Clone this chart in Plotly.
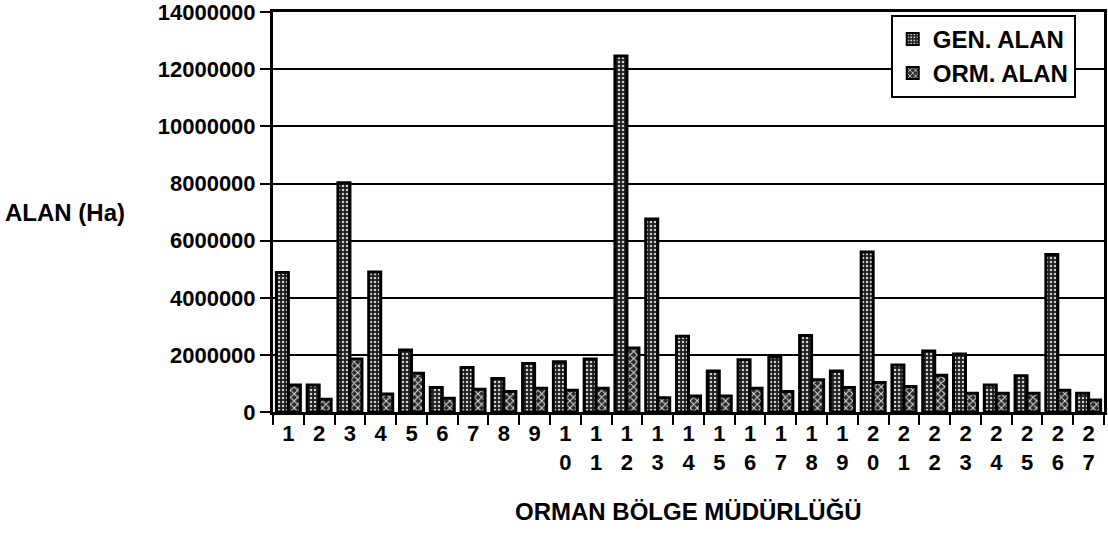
import plotly.graph_objects as go

# Orman Bölge Müdürlüğü numbers and areas (ha)
bolge = [str(i) for i in range(1, 28)]
tick_labels = [b if len(b) == 1 else b[0] + "<br>" + b[1] for b in bolge]

gen_alan = [4890000, 950000, 8030000, 4900000, 2170000, 860000, 1560000, 1170000, 1700000,
            1760000, 1860000, 12470000, 6760000, 2650000, 1440000, 1830000, 1930000, 2680000,
            1440000, 5600000, 1650000, 2140000, 2030000, 950000, 1270000, 5520000, 660000]
orm_alan = [950000, 450000, 1860000, 630000, 1360000, 480000, 800000, 720000, 830000,
            760000, 830000, 2240000, 500000, 560000, 560000, 830000, 720000, 1130000,
            860000, 1030000, 890000, 1290000, 660000, 660000, 660000, 760000, 420000]

y_ticks = [0, 2000000, 4000000, 6000000, 8000000, 10000000, 12000000, 14000000]

FONT = "Liberation Sans, Arial, sans-serif"

fig = go.Figure()
fig.add_trace(go.Bar(
    x=bolge, y=gen_alan, name="GEN. ALAN",
    marker=dict(color="black",
                line=dict(color="black", width=3),
                pattern=dict(shape=".", bgcolor="#1e1e1e", fgcolor="#d0d0d0",
                             size=4, solidity=0.3, fillmode="replace"))
))
fig.add_trace(go.Bar(
    x=bolge, y=orm_alan, name="ORM. ALAN",
    marker=dict(color="black",
                line=dict(color="black", width=3),
                pattern=dict(shape="x", bgcolor="#2a2a2a", fgcolor="#e0e0e0",
                             size=5, solidity=0.35, fillmode="replace"))
))

fig.update_layout(
    width=1108, height=537,
    margin=dict(l=273, r=4, t=12, b=125, autoexpand=False),
    paper_bgcolor="white", plot_bgcolor="white",
    barmode="group", bargap=0.22, bargroupgap=0,
    font=dict(family=FONT, size=22, color="black", weight="bold"),
    showlegend=True,
    legend=dict(x=0.966, y=0.993, xanchor="right", yanchor="top",
                bgcolor="white", bordercolor="black", borderwidth=2,
                font=dict(family=FONT, size=24, color="black", weight="bold"),
                itemsizing="constant", traceorder="normal"),
)

fig.update_xaxes(
    type="category", tickmode="array", tickvals=bolge, ticktext=tick_labels,
    tickson="boundaries", ticks="outside", ticklen=10, tickwidth=2, tickcolor="black",
    showline=True, linecolor="black", linewidth=3, mirror=True,
    showgrid=False, tickfont=dict(size=22), automargin=False,
)
fig.update_yaxes(
    range=[0, 14010000], tickvals=y_ticks, tickformat="d",
    ticks="outside", ticklen=10, tickwidth=2, tickcolor="black",
    showline=True, linecolor="black", linewidth=3, mirror=True,
    showgrid=True, gridcolor="black", gridwidth=2, zeroline=False,
    tickfont=dict(size=22), automargin=False, ticklabeloverflow="allow",
)

fig.add_annotation(text="ALAN (Ha)", xref="paper", yref="paper",
                   x=-0.325, y=0.5, xanchor="left", yanchor="middle",
                   showarrow=False, font=dict(size=24))
fig.add_annotation(text="ORMAN BÖLGE MÜDÜRLÜĞÜ", xref="paper", yref="paper",
                   x=0.5, y=-0.2475, xanchor="center", yanchor="middle",
                   showarrow=False, font=dict(size=24))

# remove the default page margin so the figure sits at the window's corner
fig.write_html("out.html", config={"displayModeBar": False},
               post_script="document.body.style.margin='0';")
